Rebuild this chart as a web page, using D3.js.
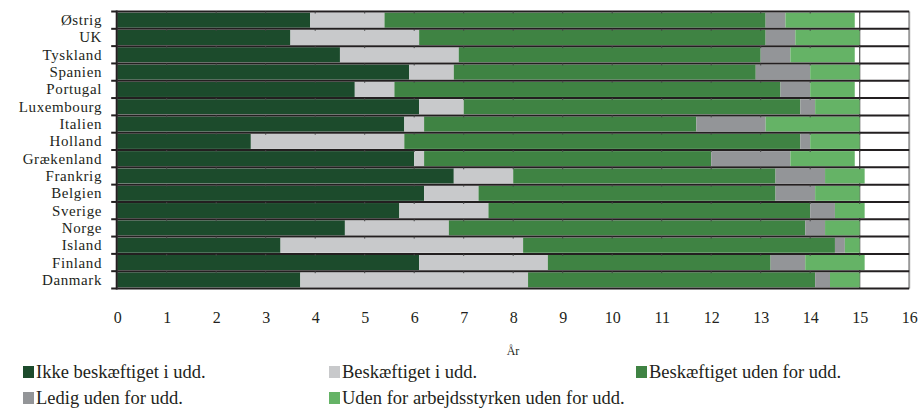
<!DOCTYPE html>
<html>
<head>
<meta charset="utf-8">
<script src="https://cdn.jsdelivr.net/npm/d3@7"></script>
<style>
  html, body { margin: 0; padding: 0; background: #fff; }
  svg { display: block; }
  text { font-family: "Liberation Serif", "DejaVu Serif", serif; fill: #231f20; }
</style>
</head>
<body>
<script>
const countries = ["Østrig","UK","Tyskland","Spanien","Portugal","Luxembourg","Italien","Holland","Grækenland","Frankrig","Belgien","Sverige","Norge","Island","Finland","Danmark"];
const seriesNames = ["Ikke beskæftiget i udd.","Beskæftiget i udd.","Beskæftiget uden for udd.","Ledig uden for udd.","Uden for arbejdsstyrken uden for udd."];
const seriesColors = ["#1c4b2c","#c8c9cb","#3f8343","#939598","#65b366"];
const ikkeBesk   = [3.9,3.5,4.5,5.9,4.8,6.1,5.8,2.7,6.0,6.8,6.2,5.7,4.6,3.3,6.1,3.7];
const beskIUdd   = [1.5,2.6,2.4,0.9,0.8,0.9,0.4,3.1,0.2,1.2,1.1,1.8,2.1,4.9,2.6,4.6];
const beskUden   = [7.7,7.0,6.1,6.1,7.8,6.8,5.5,8.0,5.8,5.3,6.0,6.5,7.2,6.3,4.5,5.8];
const ledigUden  = [0.4,0.6,0.6,1.1,0.6,0.3,1.4,0.2,1.6,1.0,0.8,0.5,0.4,0.2,0.7,0.3];
const udenforArb = [1.4,1.3,1.3,1.0,0.9,0.9,1.9,1.0,1.3,0.8,0.9,0.6,0.7,0.3,1.2,0.6];
const xTicks = d3.range(0, 17);
const xTitle = "År";

const seriesValues = [ikkeBesk, beskIUdd, beskUden, ledigUden, udenforArb];
const rows = countries.map((c, i) => {
  const r = { country: c };
  seriesNames.forEach((s, k) => r[s] = seriesValues[k][i]);
  return r;
});
const stacked = d3.stack().keys(seriesNames)(rows);

const W = 920, H = 410;
const m = { left: 117.2, right: W - 909.2, top: 11.5, bottom: H - 288.5 };
const svg = d3.select("body").append("svg").attr("width", W).attr("height", H);

const x = d3.scaleLinear().domain([0, 16]).range([m.left, W - m.right]);
const y = d3.scaleBand().domain(countries).range([m.top, H - m.bottom]).padding(0);

const g = svg.append("g");

// vertical line at 15
g.append("line")
  .attr("x1", x(15)).attr("x2", x(15))
  .attr("y1", y.range()[0]).attr("y2", y.range()[1])
  .attr("stroke", "#555").attr("stroke-width", 1.2);

// bars
const pad = 1.1;
g.selectAll("g.series").data(stacked).join("g")
  .attr("fill", (d, i) => seriesColors[i])
  .selectAll("rect").data(d => d).join("rect")
  .attr("x", d => x(d[0]))
  .attr("width", d => Math.max(0, x(d[1]) - x(d[0])))
  .attr("y", d => y(d.data.country) + pad)
  .attr("height", y.bandwidth() - 2 * pad);

// right border
g.append("line")
  .attr("x1", x(16)).attr("x2", x(16))
  .attr("y1", y.range()[0]).attr("y2", y.range()[1])
  .attr("stroke", "#999").attr("stroke-width", 2);

// horizontal separators
const bounds = countries.map(c => y(c)).concat([y.range()[1]]);
g.selectAll("line.sep").data(bounds).join("line")
  .attr("class", "sep")
  .attr("x1", x(0)).attr("x2", x(16))
  .attr("y1", d => d).attr("y2", d => d)
  .attr("stroke", "#231f20").attr("stroke-width", 2);

// small tick marks on separators at integers
const tickMarks = [];
bounds.slice(0, -1).forEach(b => xTicks.slice(1, -1).forEach(t => tickMarks.push({ b, t })));
g.selectAll("line.tm").data(tickMarks).join("line")
  .attr("x1", d => x(d.t)).attr("x2", d => x(d.t))
  .attr("y1", d => d.b).attr("y2", d => d.b + 2)
  .attr("stroke", "#444").attr("stroke-width", 1);

// left axis line
g.append("line")
  .attr("x1", x(0) - 0.5).attr("x2", x(0) - 0.5)
  .attr("y1", y.range()[0] - 1).attr("y2", y.range()[1] + 1)
  .attr("stroke", "#231f20").attr("stroke-width", 2);

// left ticks
g.selectAll("line.lt").data(bounds).join("line")
  .attr("x1", x(0) - 6).attr("x2", x(0))
  .attr("y1", d => d).attr("y2", d => d)
  .attr("stroke", "#231f20").attr("stroke-width", 2);

// category labels
g.selectAll("text.cat").data(countries).join("text")
  .attr("x", 102)
  .attr("y", d => y(d) + y.bandwidth() / 2 + 5)
  .attr("text-anchor", "end")
  .attr("font-size", 15)
  .attr("letter-spacing", 0.6)
  .text(d => d);

// x axis labels
const xAxis = d3.axisBottom(x).tickValues(xTicks).tickSize(0).tickPadding(0).tickFormat(d3.format("d"));
const ax = svg.append("g").attr("transform", `translate(0,${312})`).call(xAxis);
ax.select(".domain").remove();
ax.selectAll("text")
  .attr("font-size", 16)
  .attr("dy", "0.71em");

svg.append("text")
  .attr("x", 513).attr("y", 355)
  .attr("text-anchor", "middle")
  .attr("font-size", 12)
  .text(xTitle);

// legend
const legPos = [[23, 372], [329, 372], [636, 372], [23, 398], [329, 398]];
const leg = svg.selectAll("g.leg").data(seriesNames).join("g")
  .attr("transform", (d, i) => `translate(${legPos[i][0]},${legPos[i][1]})`);
leg.append("rect")
  .attr("x", 0).attr("y", -6).attr("width", 11).attr("height", 12)
  .attr("fill", (d, i) => seriesColors[i]);
leg.append("text")
  .attr("x", 13).attr("y", 6)
  .attr("font-size", 18.5)
  .text(d => d);
</script>
</body>
</html>
